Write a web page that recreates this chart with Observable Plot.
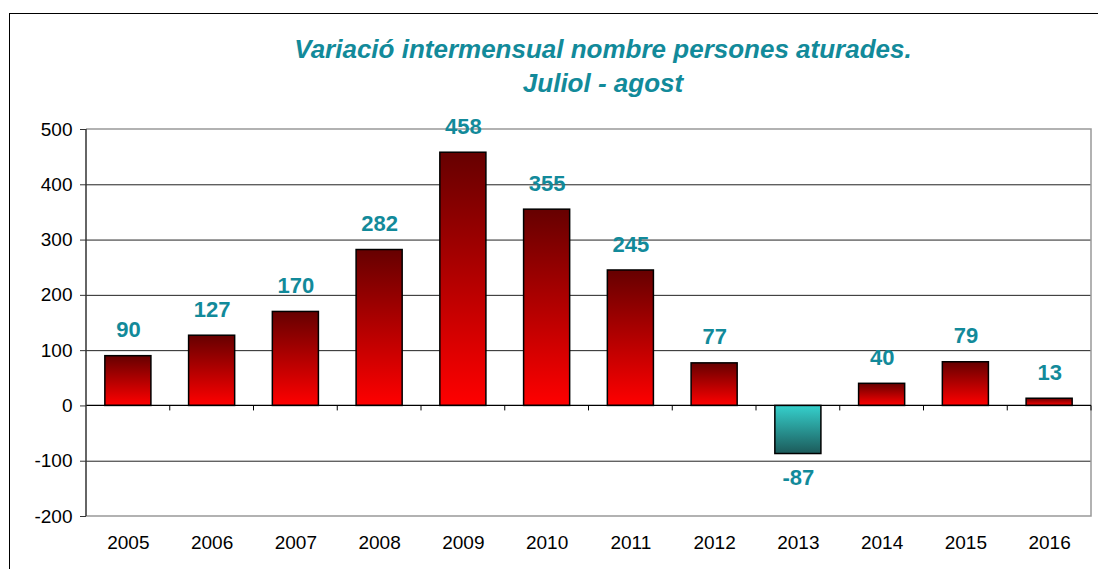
<!DOCTYPE html>
<html>
<head>
<meta charset="utf-8">
<script src="https://cdn.jsdelivr.net/npm/d3@7"></script>
<script src="https://cdn.jsdelivr.net/npm/@observablehq/plot@0.6"></script>
<style>
  body { margin: 0; background: #fff; font-family: "Liberation Sans", Arial, sans-serif; }
  #wrap { position: relative; width: 1098px; height: 569px; overflow: hidden; }
  #border { position: absolute; left: 9px; top: 13px; width: 1200px; height: 700px; border: 1.5px solid #000; box-sizing: border-box; }
  #title { position: absolute; left: 253px; width: 700px; top: 32px; text-align: center; color: #128a9a;
           font: italic bold 26px "Liberation Sans", Arial, sans-serif; line-height: 34px; }
  #chart { position: absolute; left: 0; top: 0; }
</style>
</head>
<body>
<div id="wrap">
  <div id="border"></div>
  <div id="chart"></div>
  <div id="title">Variació intermensual nombre persones aturades.<br>Juliol - agost</div>
</div>
<script>
const years = ["2005","2006","2007","2008","2009","2010","2011","2012","2013","2014","2015","2016"];
const values = [90, 127, 170, 282, 458, 355, 245, 77, -87, 40, 79, 13];
const yTicks = [-200, -100, 0, 100, 200, 300, 400, 500];
const gridValues = [-100, 100, 200, 300, 400];

const data = years.map((year, i) => ({year, value: values[i]}));
const teal = "#128a9a";

const defs = () => {
  const g = d3.create("svg:g");
  const d = g.append("defs");
  const pos = d.append("linearGradient").attr("id", "gPos").attr("x1", 0).attr("y1", 0).attr("x2", 0).attr("y2", 1);
  pos.append("stop").attr("offset", "0%").attr("stop-color", "#660000");
  pos.append("stop").attr("offset", "100%").attr("stop-color", "#ff0000");
  const neg = d.append("linearGradient").attr("id", "gNeg").attr("x1", 0).attr("y1", 0).attr("x2", 0).attr("y2", 1);
  neg.append("stop").attr("offset", "0%").attr("stop-color", "#35d0cc");
  neg.append("stop").attr("offset", "100%").attr("stop-color", "#1c5a5a");
  return g.node();
};

const frameAndTicks = (index, scales, values, dims) => {
  const {y} = scales;
  const g = d3.create("svg:g");
  const left = dims.marginLeft, right = dims.width - dims.marginRight;
  const top = dims.marginTop, bottom = dims.height - dims.marginBottom;
  g.append("path").attr("fill", "none").attr("stroke", "#999").attr("stroke-width", 1.5)
    .attr("d", `M${left},${top}H${right}V${bottom}H${left}`);
  const y0 = y(0);
  g.append("line").attr("x1", left).attr("x2", right).attr("y1", y0).attr("y2", y0)
    .attr("stroke", "#000").attr("stroke-width", 1.2);
  const step = (right - left) / years.length;
  for (let i = 1; i <= years.length; i++) {
    const px = left + i * step;
    g.append("line").attr("x1", px).attr("x2", px).attr("y1", y0).attr("y2", y0 + 5)
      .attr("stroke", "#000").attr("stroke-width", 1);
  }
  g.append("line").attr("x1", left).attr("x2", left).attr("y1", top).attr("y2", bottom)
    .attr("stroke", "#333").attr("stroke-width", 1.5);
  return g.node();
};

const plot = Plot.plot({
  width: 1098,
  height: 569,
  marginLeft: 86,
  marginRight: 7,
  marginTop: 129,
  marginBottom: 53,
  style: {background: "transparent", fontFamily: "'Liberation Sans', Arial, sans-serif"},
  x: {domain: years, paddingInner: 0.45, paddingOuter: 0.225, round: false, label: null},
  y: {domain: [-200, 500], label: null},
  color: {type: "identity"},
  marks: [
    defs,
    Plot.ruleY(gridValues, {stroke: "#222", strokeWidth: 1}),
    Plot.barY(data, {x: "year", y: "value", fill: d => d.value < 0 ? "url(#gNeg)" : "url(#gPos)", stroke: "#000", strokeWidth: 1.5}),
    frameAndTicks,
    Plot.axisY({ticks: yTicks, tickFormat: d => String(d), tickSize: 6, tickPadding: 8, fontSize: 19, color: "#000", stroke: "#333", label: null}),
    Plot.axisX({tickSize: 0, tickPadding: 19, fontSize: 19, color: "#000", label: null}),
    Plot.text(data.filter(d => d.value >= 0), {x: "year", y: "value", text: d => String(d.value), dy: -26, fill: teal, fontSize: 22, fontWeight: "bold"}),
    Plot.text(data.filter(d => d.value < 0), {x: "year", y: "value", text: d => String(d.value), dy: 24, fill: teal, fontSize: 22, fontWeight: "bold"})
  ]
});
document.getElementById("chart").appendChild(plot);
</script>
</body>
</html>
